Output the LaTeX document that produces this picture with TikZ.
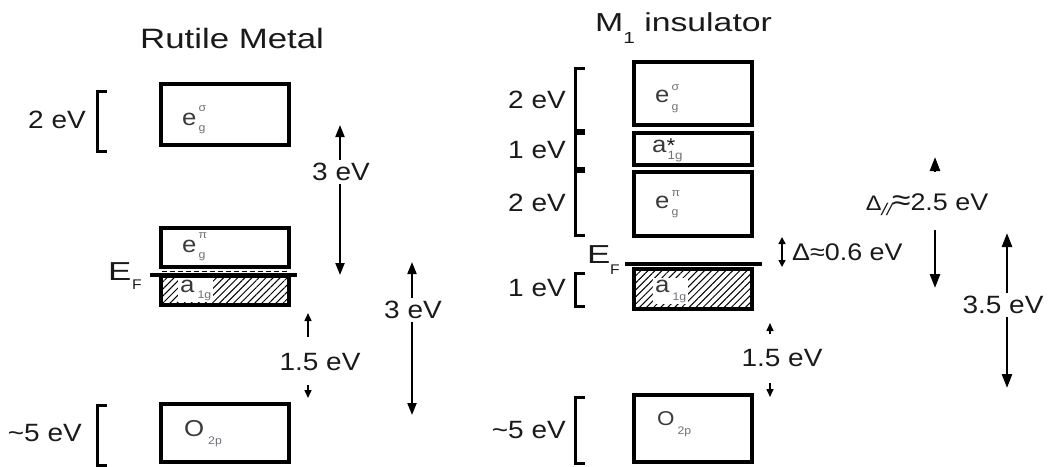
\documentclass[tikz,border=0pt]{standalone}
\usepackage{fontspec}
\setmainfont[FakeStretch=1.12]{Liberation Sans}
\usepackage{graphicx}
\usetikzlibrary{arrows.meta,patterns.meta}
\definecolor{txt}{HTML}{1A1A1A}
\definecolor{mainc}{HTML}{3A3A3A}
\definecolor{subc}{HTML}{707078}
\newcommand\fs[1]{\fontsize{#1}{#1}\selectfont}
% main, sup, sub, kern, raise, lower
\newcommand\bandlabel[6]{#1\kern#4\rlap{\raisebox{#5}{\fs{11}\color{subc}#2}}\raisebox{-#6}{\fs{11}\color{subc}#3}}
\begin{document}
\begin{tikzpicture}[x=1pt,y=-1pt,
  lab/.style={font=\fs{25}, text=txt, inner sep=3pt},
  title/.style={font=\fs{28}, text=txt, inner sep=0pt, anchor=base west},
  bandL/.style={draw, line width=4pt, inner sep=0pt, outer sep=0pt, minimum width=128pt},
  bandR/.style={draw, line width=4pt, inner sep=0pt, outer sep=0pt, minimum width=118pt},
  hatched/.style={pattern={Lines[angle=45,distance=5pt,line width=1pt]}},
  blab/.style={font=\fs{23}, text=mainc, inner sep=0pt, anchor=base west},
  wblab/.style={font=\fs{23}, text=mainc, inner sep=2pt, anchor=base west, fill=white},
  brk/.style={line width=3pt},
  efline/.style={line width=4pt},
  arrbig/.style={line width=2pt, -{Triangle[length=12pt,width=9pt]}},
  arrsm/.style={line width=1.5pt, -{Triangle[length=8pt,width=7pt]}},
  arrbold/.style={line width=2.6pt, -{Triangle[length=14pt,width=10pt]}},
  arrdbl/.style={line width=1.5pt, {Triangle[length=7pt,width=7pt]}-{Triangle[length=7pt,width=7pt]}},
  efE/.style={font=\fs{26}, text=txt, inner sep=0pt, anchor=base west},
  efF/.style={font=\fs{14}, text=txt, inner sep=0pt, anchor=base west}
]
\useasboundingbox (0,0) rectangle (1048,466);

% ---------------- titles ----------------
\node[title] (tRut) at (140,48) {\scalebox{1.11}[1]{Rutile Metal}};
\node[title, font=\fs{26}] (tM1) at (595,31) {\scalebox{1.16}[1]{M\raisebox{-12pt}{\fs{16}1}\ insulator}};

% ---------------- left panel: bands ----------------
\node[bandL, minimum height=61pt] (egsL) at (225,114.5) {};
\node[bandL, minimum height=39pt] (egpL) at (225,247.5) {};
\node[bandL, minimum height=29pt, hatched] (a1gL) at (225,290.5) {};
\node[bandL, minimum height=58pt] (o2pL) at (225,433) {};
\coordinate (dashA) at (162,271.5);
\coordinate (dashB) at (288,271.5);
\draw[line width=1.5pt, dash pattern=on 5pt off 3pt] (dashA) -- (dashB);
\coordinate (efLa) at (150,275);
\coordinate (efLb) at (297,275);
\draw[efline] (efLa) -- (efLb);

\node[blab] (lEgsL) at (182,125) {\bandlabel{e}{σ}{g}{2pt}{14pt}{6pt}};
\node[blab] (lEgpL) at (182,252) {\bandlabel{e}{π}{g}{2pt}{14pt}{6pt}};
\node[wblab] (lA1gL) at (178,292) {\bandlabel{a}{}{1g}{3pt}{0pt}{6pt}};
\node[blab] (lO2pL) at (184,436) {\bandlabel{O}{}{2p}{4pt}{0pt}{8pt}};

\node[efE] (EL) at (108,280) {\scalebox{1.2}[1]{E}};
\node[efF] (ELs) at (132,289) {F};

% brackets left
\draw[brk] (107,91) -| (97,151) -- (107,151);
\draw[brk] (107,405) -| (97,465) -- (107,465);
\node[lab, anchor=east] (b2L) at (89,120) {2 eV};
\node[lab, anchor=east] (b5L) at (85,433) {\char"007E 5 eV};

% arrows left
\node[lab] (t3a) at (341,172) {3 eV};
\coordinate (t3aTop) at (340,125);
\coordinate (t3aBot) at (340,275);
\draw[arrbig] (t3a.north -| t3aTop) -- (t3aTop);
\draw[arrbig] (t3a.south -| t3aBot) -- (t3aBot);

\node[lab] (t15L) at (320,362) {1.5 eV};
\coordinate (u15La) at (308,337); \coordinate (u15Lb) at (308,313);
\coordinate (d15La) at (308,385); \coordinate (d15Lb) at (308,398);
\draw[arrsm] (u15La) -- (u15Lb);
\draw[arrsm] (d15La) -- (d15Lb);

\node[lab] (t3b) at (413,310) {3 eV};
\coordinate (t3bTop) at (412,262);
\coordinate (t3bBot) at (412,415);
\draw[arrbig] (t3b.north -| t3bTop) -- (t3bTop);
\draw[arrbig] (t3b.south -| t3bBot) -- (t3bBot);

% ---------------- right panel: bands ----------------
\node[bandR, minimum height=63pt] (egsR) at (693,93.5) {};
\node[bandR, minimum height=32pt] (a1gsR) at (693,149) {};
\node[bandR, minimum height=64pt] (egpR) at (693,204) {};
\node[bandR, minimum height=40pt, hatched] (a1gR) at (693,289) {};
\node[bandR, minimum height=67pt] (o2pR) at (693,428.5) {};
\coordinate (efRa) at (625,264);
\coordinate (efRb) at (762,264);
\draw[efline] (efRa) -- (efRb);

\node[blab] (lEgsR) at (655,102) {\bandlabel{e}{σ}{g}{2pt}{12pt}{8pt}};
\node[blab] (lA1gsR) at (652,152) {a\kern0pt\rlap{\fs{20}\color{txt}*}\kern1pt\raisebox{-7pt}{\fs{12}\color{subc}1g}};
\node[blab] (lEgpR) at (655,208) {\bandlabel{e}{π}{g}{2pt}{12pt}{7pt}};
\node[wblab] (lA1gR) at (653,292) {\bandlabel{a}{}{1g}{3pt}{0pt}{8pt}};
\node[blab, font=\fs{20}] (lO2pR) at (657,425) {\bandlabel{O}{}{2p}{3pt}{0pt}{9pt}};

\node[efE] (ER) at (587,263) {\scalebox{1.2}[1]{E}};
\node[efF] (ERs) at (610,274) {F};

% brackets right
\draw[brk] (585,68) -| (575,130) -- (585,130);
\draw[brk] (585,133) -| (575,168) -- (585,168);
\draw[brk] (585,171) -| (575,235) -- (585,235);
\draw[brk] (585,273) -| (575,306) -- (585,306);
\draw[brk] (585,397) -| (575,463) -- (585,463);
\node[lab, anchor=east] (b2Ra) at (569,100) {2 eV};
\node[lab, anchor=east] (b1Ra) at (569,150) {1 eV};
\node[lab, anchor=east] (b2Rb) at (569,203) {2 eV};
\node[lab, anchor=east] (b1Rb) at (569,288) {1 eV};
\node[lab, anchor=east] (b5R) at (569,430) {\char"007E 5 eV};

% arrows right
\coordinate (dTop) at (782,237);
\coordinate (dBot) at (782,267);
\draw[arrdbl] (dTop) -- (dBot);
\node[lab, anchor=west, font=\fs{24}] (tDelta) at (789,252) {Δ≈0.6 eV};

\node[lab] (t15R) at (782,358) {1.5 eV};
\coordinate (u15Ra) at (770,334); \coordinate (u15Rb) at (770,323);
\coordinate (d15Ra) at (770,383); \coordinate (d15Rb) at (770,397);
\draw[arrsm] (u15Ra) -- (u15Rb);
\draw[arrsm] (d15Ra) -- (d15Rb);

\node[lab, font=\fs{24}] (tDpar) at (927,205) {{\fs{21}Δ}\raisebox{-5pt}{\fs{17}\itshape //}{\fs{30}≈}2.5 eV};
\coordinate (dpTopA) at (935,172); \coordinate (dpTop) at (935,157);
\coordinate (dpBotA) at (935,230);
\coordinate (dpBot) at (935,288);
\draw[arrbold] (dpTopA) -- (dpTop);
\draw[arrbold] (dpBotA) -- (dpBot);

\node[lab] (t35) at (1003,305) {3.5 eV};
\coordinate (t35Top) at (1007,233);
\coordinate (t35Bot) at (1007,388);
\draw[arrbold] (t35.north -| t35Top) -- (t35Top);
\draw[arrbold] (t35.south -| t35Bot) -- (t35Bot);
\end{tikzpicture}
\end{document}
